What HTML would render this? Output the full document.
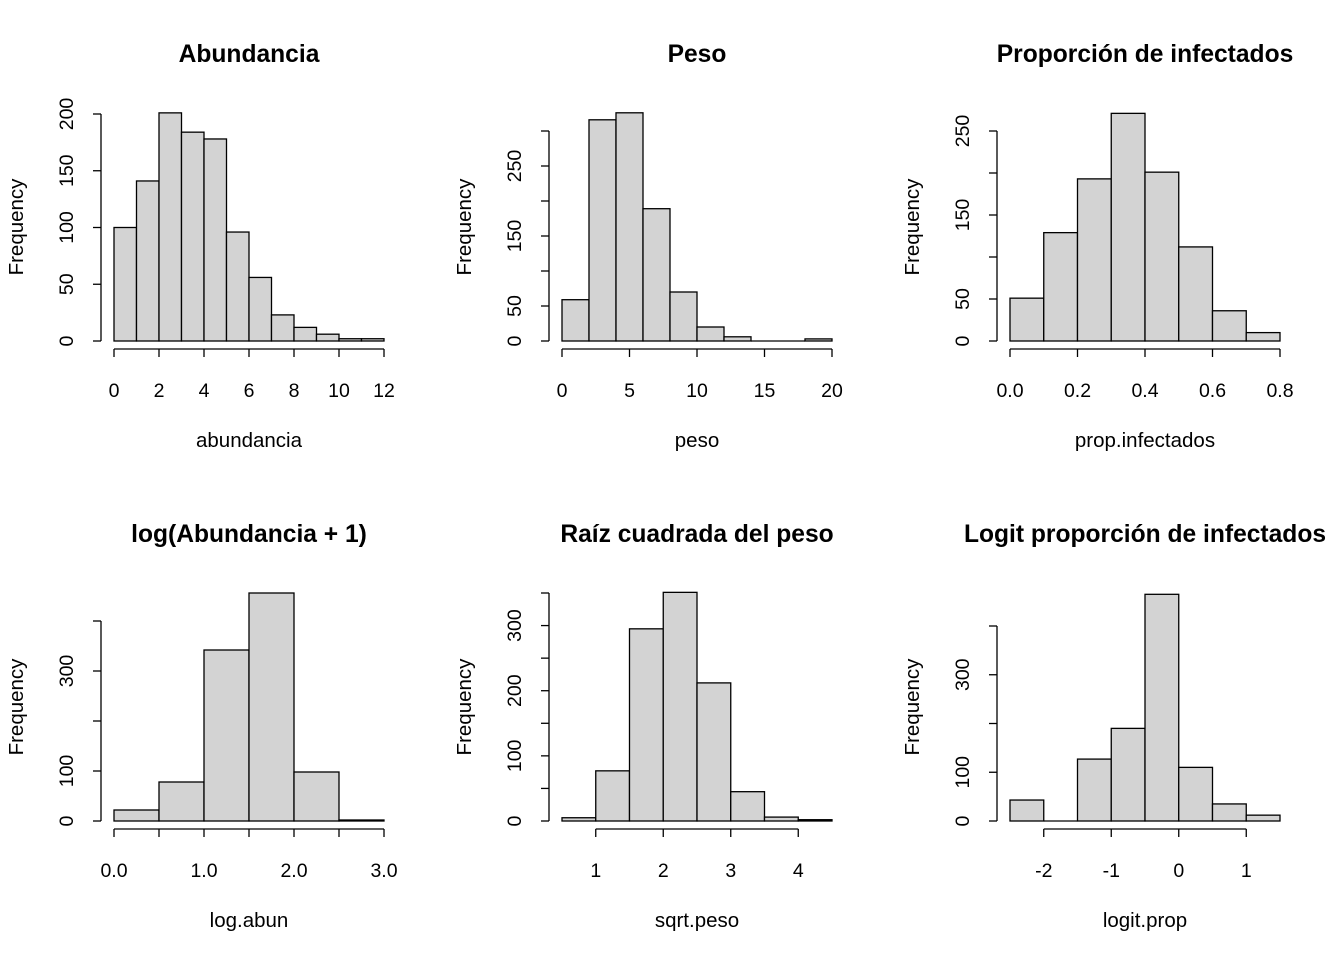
<!DOCTYPE html>
<html><head><meta charset="utf-8"><style>
body{margin:0;background:#fff}
svg{display:block}
text{font-family:"Liberation Sans",Arial,sans-serif;fill:#000}
</style></head><body>
<svg id="c" width="1344" height="960" xmlns="http://www.w3.org/2000/svg"></svg>
<script>
// Panel data
const titles = ["Abundancia","Peso","Proporción de infectados","log(Abundancia + 1)","Raíz cuadrada del peso","Logit proporción de infectados"];
const xlabels = ["abundancia","peso","prop.infectados","log.abun","sqrt.peso","logit.prop"];
const binStarts = [0,0,0,0,0.5,-2.5];
const binWidths = [1,2,0.1,0.5,0.5,0.5];
const counts1 = [100,141,201,184,178,96,56,23,12,6,2,2];
const counts2 = [59,316,326,189,70,20,6,0,0,3];
const counts3 = [51,129,193,271,201,112,36,10];
const counts4 = [22,78,342,456,98,2];
const counts5 = [5,77,295,351,212,45,6,2];
const counts6 = [43,0,127,190,465,110,35,12];
const counts = [counts1,counts2,counts3,counts4,counts5,counts6];
const xTicks = [[0,2,4,6,8,10,12],[0,5,10,15,20],[0,0.2,0.4,0.6,0.8],[0,0.5,1,1.5,2,2.5,3],[1,2,3,4],[-2,-1,0,1]];
const xTickLabels = [["0","2","4","6","8","10","12"],["0","5","10","15","20"],["0.0","0.2","0.4","0.6","0.8"],["0.0","","1.0","","2.0","","3.0"],["1","2","3","4"],["-2","-1","0","1"]];
const xRange = [[0,12],[0,20],[0,0.8],[0,3],[0.5,4.5],[-2.5,1.5]];
const yTicks = [[0,50,100,150,200],[0,50,100,150,200,250,300],[0,50,100,150,200,250],[0,100,200,300,400],[0,50,100,150,200,250,300,350],[0,100,200,300,400]];
const yTickLabels = [["0","50","100","150","200"],["0","50","","150","","250",""],["0","50","","150","","250"],["0","100","","300",""],["0","","100","","200","","300",""],["0","100","","300",""]];
const yMax = [200,300,250,400,350,400];
const yTopPx = [114,131,131,621,593,626];

const svg=document.getElementById('c');
const NS="http://www.w3.org/2000/svg";
function mk(tag,attrs,parent){const e=document.createElementNS(NS,tag);for(const k in attrs)e.setAttribute(k,attrs[k]);parent.appendChild(e);return e;}

for(let p=0;p<6;p++){
  const col=p%3,row=Math.floor(p/3);
  const ox=col*448, oy=row*480;
  const g=mk('g',{},svg);
  
  
  const x0=114+ox,x1=384+ox;
  const yBase=341+oy, yTop=yTopPx[p];
  const xs=v=>x0+(v-xRange[p][0])/(xRange[p][1]-xRange[p][0])*(x1-x0);
  const ys=v=>yBase-v/yMax[p]*(yBase-yTop);
  const t=mk('text',{x:249+ox,y:62+oy,'text-anchor':'middle','font-size':'24.6','font-weight':'bold'},g);
  t.textContent=titles[p];
  
  
  counts[p].forEach((c,i)=>{
    const a=binStarts[p]+i*binWidths[p], b=a+binWidths[p];
    let r;
    if(c>0){
      r=mk('rect',{x:xs(a),y:ys(c),width:xs(b)-xs(a),height:yBase-ys(c),fill:'#d3d3d3',stroke:'#000','stroke-width':1.3},g);
    } else {
      r=mk('line',{x1:xs(a),x2:xs(b),y1:yBase,y2:yBase,stroke:'#000','stroke-width':1.3},g);
    }
    
    
  });
  const xa=mk('g',{},g);
  
  
  const xt=xTicks[p];
  mk('line',{x1:xs(xt[0]),x2:xs(xt[xt.length-1]),y1:349+oy,y2:349+oy,stroke:'#000','stroke-width':1.3},xa);
  xt.forEach((v,i)=>{
    mk('line',{x1:xs(v),x2:xs(v),y1:349+oy,y2:357+oy,stroke:'#000','stroke-width':1.3},xa);
    const l=mk('text',{x:xs(v),y:397+oy,'text-anchor':'middle','font-size':'19.5'},xa);
    l.textContent=xTickLabels[p][i];
  });
  const xl=mk('text',{x:249+ox,y:447+oy,'text-anchor':'middle','font-size':'20.5'},g);
  xl.textContent=xlabels[p];
  
  
  const ya=mk('g',{},g);
  
  
  const ax=101+ox, yt=yTicks[p];
  mk('line',{x1:ax,x2:ax,y1:ys(yt[0]),y2:ys(yt[yt.length-1]),stroke:'#000','stroke-width':1.3},ya);
  yt.forEach((v,i)=>{
    mk('line',{x1:ax,x2:ax-8,y1:ys(v),y2:ys(v),stroke:'#000','stroke-width':1.3},ya);
    const l=mk('text',{x:73+ox,y:ys(v),'text-anchor':'middle','font-size':'19.5',transform:`rotate(-90 ${73+ox} ${ys(v)})`},ya);
    l.textContent=yTickLabels[p][i];
  });
  const yl=mk('text',{x:23+ox,y:227+oy,'text-anchor':'middle','font-size':'20.5',transform:`rotate(-90 ${23+ox} ${227+oy})`},g);
  yl.textContent='Frequency';
  
  
}
</script>
</body></html>
